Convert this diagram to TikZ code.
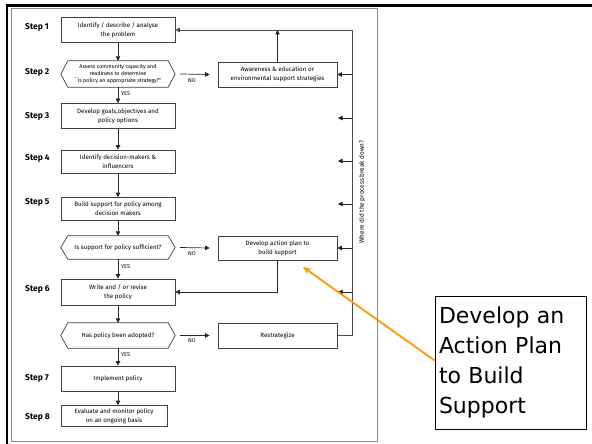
\documentclass[tikz,border=0pt]{standalone}
\usepackage{fontspec}
\usetikzlibrary{arrows.meta}
\newfontfamily\flfont{Fira Sans}
\newfontfamily\cofont{DejaVu Sans}
\newcommand\hexof[1]{\draw[boxline] ([xshift=7pt]#1.north west) -- ([xshift=-7pt]#1.north east) -- (#1.east) -- ([xshift=-7pt]#1.south east) -- ([xshift=7pt]#1.south west) -- (#1.west) -- cycle;}
\begin{document}
\begin{tikzpicture}[x=1pt,y=-1pt,
  boxline/.style={draw=black!75, line width=0.7pt},
  box/.style={boxline, fill=white, minimum width=114pt, minimum height=25pt, inner sep=1pt, align=center, font=\flfont\fontsize{6.2}{8.8}\selectfont},
  hexn/.style={minimum width=114pt, minimum height=25pt, inner sep=1pt, align=center, font=\flfont\fontsize{6.2}{8.8}\selectfont},
  arr/.style={draw=black!85, line width=0.7pt, -{Triangle[length=4.5pt,width=4.5pt]}},
  steplbl/.style={anchor=west, font=\flfont\bfseries\fontsize{8.5}{10}\selectfont, inner sep=0pt},
  small/.style={font=\flfont\fontsize{5.5}{6}\selectfont, inner sep=0pt},
  vline/.style={draw=black!70, line width=0.8pt},
]
\useasboundingbox (0,0) rectangle (592,444);
\fill[white] (0,0) rectangle (592,444);
% outer frames
\draw[black, line width=2.5pt] (592,5.5) -- (7,5.5) -- (7,444);
\draw[black!45, line width=1pt] (11,9) rectangle (377,441);

% left column
\node[box] (b1) at (118,30) {Identify / describe / analyse\\the problem};
\node[hexn, font=\flfont\fontsize{5.4}{7}\selectfont, minimum height=26pt, inner sep=0pt] (h1) at (118,74) {Assess community capacity and\\readiness to determine\\``Is policy an appropriate strategy?''};
\hexof{h1}
\node[box] (b3) at (118,116) {Develop goals,objectives and\\policy options};
\node[box, minimum height=23pt] (b4) at (118,161.5) {Identify decision-makers \&\\influencers};
\node[box, minimum height=23pt] (b5) at (118,209) {Build support for policy among\\decision makers};
\node[hexn, minimum height=23pt] (h2) at (118,247.5) {Is support for policy sufficient?};
\hexof{h2}
\node[box, minimum height=26pt] (b6) at (118,292) {Write and / or revise\\the policy};
\node[hexn] (h3) at (118,335.5) {Has policy been adopted?};
\hexof{h3}
\node[box] (b7) at (118,378.5) {Implement policy};
\node[box, minimum width=106pt, minimum height=21pt] (b8) at (114,416) {Evaluate and monitor policy\\on an ongoing basis};

% right column
\node[box, minimum width=119pt] (aw) at (277.5,74.5) {Awareness \& education or\\environmental support strategies};
\node[box, minimum width=119pt, minimum height=24pt] (ac) at (277.5,248) {Develop action plan to\\build support};
\node[box, minimum width=119pt] (re) at (277.5,335.5) {Restrategize};

% step labels
\node[steplbl] (s1) at (25,27) {Step 1};
\node[steplbl] (s2) at (25,72) {Step 2};
\node[steplbl] (s3) at (25,116) {Step 3};
\node[steplbl] (s4) at (25,158) {Step 4};
\node[steplbl] (s5) at (25,202) {Step 5};
\node[steplbl] (s6) at (25,289) {Step 6};
\node[steplbl] (s7) at (25,378) {Step 7};
\node[steplbl] (s8) at (25,417) {Step 8};

% main down arrows
\draw[arr] (b1.south) -- (h1.north);
\draw[arr] (h1.south) -- (b3.north);
\draw[arr] (b3.south) -- (b4.north);
\draw[arr] (b4.south) -- (b5.north);
\draw[arr] (b5.south) -- (h2.north);
\draw[arr] (h2.south) -- (b6.north);
\draw[arr] (b6.south) -- (h3.north);
\draw[arr] (h3.south) -- (b7.north);
\draw[arr] (b7.south) -- (b7.south |- b8.north);

% YES labels
\node[small, anchor=west] (y1) at (121,94) {YES};
\node[small, anchor=west] (y2) at (121,267) {YES};
\node[small, anchor=west] (y3) at (121,355) {YES};

% NO arrows
\draw[arr] ([xshift=5pt]h1.east) -- ([xshift=-8pt]aw.west);
\draw[arr] ([xshift=5pt]h2.east) -- ([xshift=-8pt]ac.west);
\draw[arr] ([xshift=5pt]h3.east) -- ([xshift=-8pt]re.west);
\node[small] (n1) at (192,81) {NO};
\node[small] (n2) at (192,254) {NO};
\node[small] (n3) at (192,341) {NO};

% feedback loop
\coordinate (rt) at (352,30);
\draw[arr, vline] (re.east) -| (rt) -- (rt -| b1.east);
\draw[arr] (aw.north) -- (aw.north |- rt);
\draw[arr] (ac.south) |- (b6.east);
\draw[arr] (aw.east -| rt) -- (aw.east);
\draw[arr] (ac.east -| rt) -- (ac.east);
\coordinate (f3) at (352,118);
\coordinate (f4) at (352,161);
\coordinate (f5) at (352,204);
\coordinate (f6) at (352,292);
\draw[arr] (f3) -- ++(-14,0);
\draw[arr] (f4) -- ++(-14,0);
\draw[arr] (f5) -- ++(-14,0);
\draw[arr] (f6) -- ++(-14,0);
\node[font=\flfont\fontsize{6.4}{7}\selectfont, rotate=90, inner sep=0pt] (wq) at (362,192) {Where did the process break down?};

% callout
\node[draw=black, line width=0.8pt, fill=white, minimum width=151pt, minimum height=133pt, text width=143pt, inner sep=4pt, align=left, font=\cofont\fontsize{22}{30}\selectfont] (cb) at (510.5,362.5) {Develop an\\Action Plan\\to Build\\Support};
\coordinate (ot) at (303,267);
\draw[draw={rgb,255:red,255;green,153;blue,0}, line width=1.8pt, -{Stealth[length=8pt,width=7pt]}] ([yshift=2pt]cb.west) -- (ot);
\end{tikzpicture}
\end{document}
